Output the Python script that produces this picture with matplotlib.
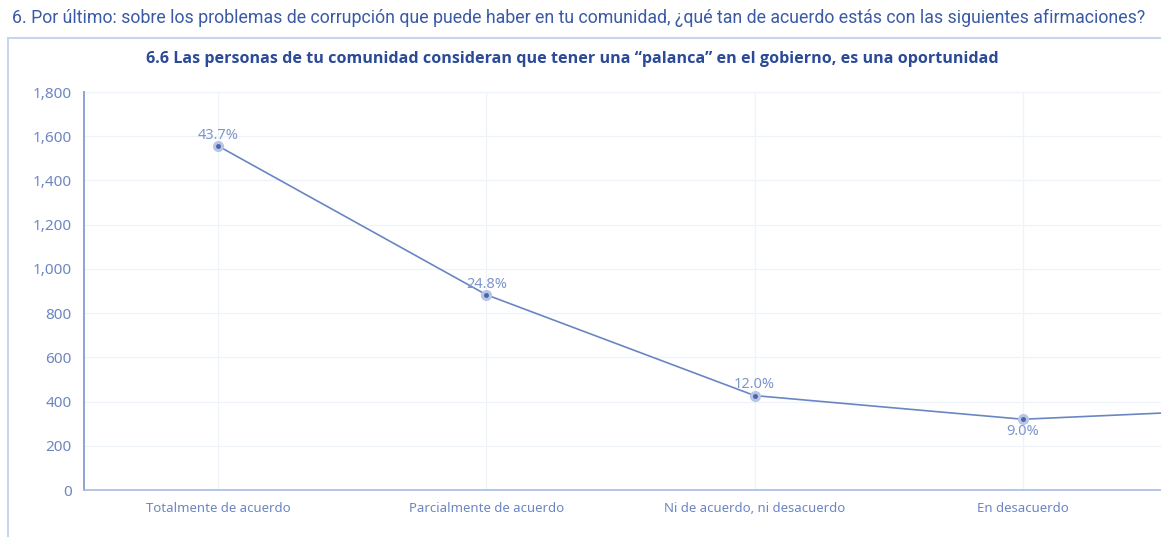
import matplotlib.pyplot as plt
from matplotlib.patches import Rectangle

# datos
categorias = ["Totalmente de acuerdo", "Parcialmente de acuerdo",
              "Ni de acuerdo, ni desacuerdo", "En desacuerdo",
              "Totalmente en desacuerdo"]
valores = [1556, 883, 427, 320, 374]
etiquetas = ["43.7%", "24.8%", "12.0%", "9.0%", "10.5%"]
yticks = [0, 200, 400, 600, 800, 1000, 1200, 1400, 1600, 1800]

azul_linea = "#6a86c2"
azul_texto = "#6c86c2"
azul_titulo = "#2b4a98"

plt.rcParams['font.family'] = ['Noto Sans', 'DejaVu Sans']

fig = plt.figure(figsize=(11.61, 5.37), dpi=100)

# marco exterior
fig.patches.append(Rectangle((8/1161, -0.1), 1.2, (537-38)/537 + 0.1,
                             transform=fig.transFigure, fill=False,
                             edgecolor="#c9d5ec", linewidth=1.5))

fig.text(12/1161, 1-18/537, "6. Por último: sobre los problemas de corrupción que puede haber en tu comunidad, ¿qué tan de acuerdo estás con las siguientes afirmaciones?",
         ha="left", va="center", fontsize=12.8, color="#3b5aa6", family=["Roboto", "DejaVu Sans"])
fig.text(572/1161, 1-59/537, "6.6 Las personas de tu comunidad consideran que tener una “palanca” en el gobierno, es una oportunidad",
         ha="center", va="center", fontsize=11.6, fontweight="bold", color=azul_titulo,
         family=["Open Sans", "DejaVu Sans"])

ax = fig.add_axes([84/1161, 47/537, 1-84/1161, (490-92)/537])
x = list(range(len(categorias)))
ax.plot(x, valores, color=azul_linea, linewidth=1.2, zorder=3)
ax.plot(x, valores, linestyle="none", marker="o", markersize=7,
        markerfacecolor="#b7c5e6", markeredgecolor="#b7c5e6", zorder=4)
ax.plot(x, valores, linestyle="none", marker="o", markersize=2.5,
        color="#4a66a8", zorder=5)

xmax = 3.515
for i, (v, t) in enumerate(zip(valores, etiquetas)):
    if i > xmax:
        continue  # fuera del area visible
    if i == 3:
        ax.text(i, v - 22, t, ha="center", va="top", fontsize=10.5, color="#7f96cc", zorder=6)
    else:
        ax.text(i, v + 14, t, ha="center", va="bottom", fontsize=10.5, color="#7f96cc", zorder=6)

ax.set_xticks(x)
ax.set_xticklabels(categorias)
ax.set_yticks(yticks)
ax.set_yticklabels([f"{v:,}" for v in yticks])
ax.set_xlim(-0.5, xmax)
ax.set_ylim(0, 1800)
ax.tick_params(axis="x", length=0, colors=azul_texto, labelsize=9.5, pad=9)
ax.tick_params(axis="y", length=0, colors=azul_texto, labelsize=11, pad=9)
ax.grid(True, color="#eef2f9", linewidth=0.9)
ax.set_axisbelow(True)
for s in ["top", "right"]:
    ax.spines[s].set_visible(False)
ax.spines["left"].set_color("#8ea3d4")
ax.spines["left"].set_linewidth(1.4)
ax.spines["bottom"].set_color("#a9bbe0")
ax.spines["bottom"].set_linewidth(1.2)

fig.savefig("out.png", dpi=100)
